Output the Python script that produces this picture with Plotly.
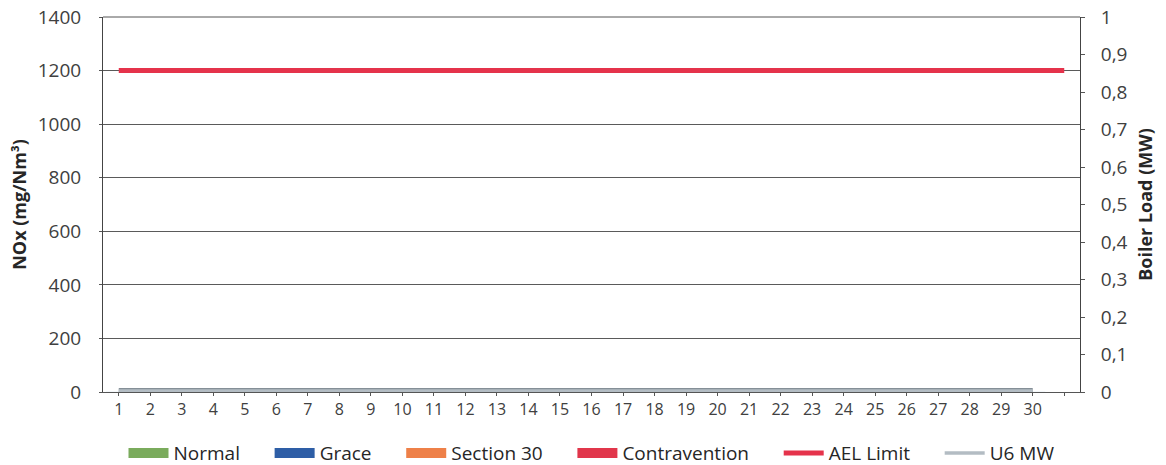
import plotly.graph_objects as go

days = list(range(1, 32))
day_labels = [str(d) for d in range(1, 31)] + [""]
normal = [0] * 30
grace = [0] * 30
section30 = [0] * 30
contravention = [0] * 30
ael_limit = [1200] * 31
u6_mw = [0.003] * 30

left_ticks = [0, 200, 400, 600, 800, 1000, 1200, 1400]
left_labels = ["0", "200", "400", "600", "800", "1000", "1200", "1400"]
right_ticks = [0, 0.1, 0.2, 0.3, 0.4, 0.5, 0.6, 0.7, 0.8, 0.9, 1.0]
right_labels = ["0", "0,1", "0,2", "0,3", "0,4", "0,5", "0,6", "0,7", "0,8", "0,9", "1"]

bar_series = [("Normal", normal, "#7aab5c"), ("Grace", grace, "#2e5ea6"),
              ("Section 30", section30, "#ee8048"), ("Contravention", contravention, "#e1364b")]

PAD = "\u00a0" * 5  # extra spacing between legend entries

font_family = "'Open Sans', Lato, sans-serif"
fig = go.Figure()
x30 = days[:30]
for name, vals, col in bar_series:
    fig.add_bar(x=x30, y=vals, name=name, marker_color=col, legendgroup=name, showlegend=False)
    # legend entry drawn as a thick swatch
    fig.add_scatter(x=[None], y=[None], name=name + PAD, mode="lines", legendgroup=name,
                    line=dict(color=col, width=12))
fig.add_scatter(x=days, y=ael_limit, name="AEL Limit" + PAD, mode="lines",
                line=dict(color="#e5334b", width=5))
fig.add_scatter(x=x30, y=u6_mw, mode="lines", yaxis="y2", showlegend=False,
                legendgroup="u6", hoverinfo="skip", line=dict(color="#858f97", width=6))
fig.add_scatter(x=x30, y=u6_mw, name="U6 MW", mode="lines", yaxis="y2", legendgroup="u6",
                line=dict(color="#b3bcc3", width=3.5))

fig.update_layout(
    width=1166, height=465,
    margin=dict(l=103, r=86, t=17, b=73, autoexpand=False),
    paper_bgcolor="white", plot_bgcolor="white",
    font=dict(family=font_family, size=15, color="#404040"),
    barmode="group",
    showlegend=True,
    legend=dict(orientation="h", x=0.5, xanchor="center", y=-0.163, yanchor="middle",
                font=dict(size=19, color="#262626"), itemwidth=40,
                traceorder="normal", tracegroupgap=0),
    xaxis=dict(range=[0.5, 31.5], tickmode="array", tickvals=days, ticktext=day_labels,
               showgrid=False, showline=True, linecolor="#555555", linewidth=1,
               ticks="outside", ticklen=3, tickcolor="#555555",
               tickfont=dict(size=16, color="#404040"), zeroline=False, automargin=False),
    yaxis=dict(range=[0, 1400], tickmode="array", tickvals=left_ticks, ticktext=left_labels,
               showgrid=True, gridcolor="#5a5a5a", gridwidth=1,
               showline=True, linecolor="#444444", linewidth=1, mirror=False,
               ticks="outside", ticklen=3, tickcolor="#555555", ticklabelstandoff=14,
               ticklabeloverflow="allow",
               tickfont=dict(size=19, color="#404040"), zeroline=False, automargin=False,
               title=dict(text="<b>NOx (mg/Nm³)</b>", font=dict(size=18, color="#262626"), standoff=6)),
    yaxis2=dict(range=[0, 1], overlaying="y", side="right", tickmode="array",
                tickvals=right_ticks, ticktext=right_labels, showgrid=False,
                showline=True, linecolor="#444444", linewidth=1,
                ticks="outside", ticklen=4, tickcolor="#555555", ticklabelstandoff=12,
                ticklabeloverflow="allow",
                tickfont=dict(size=19, color="#404040"), zeroline=False, automargin=False,
                title=dict(text="<b>Boiler Load (MW)</b>", font=dict(size=18, color="#262626"), standoff=12)),
)
fig.add_shape(type="line", xref="paper", yref="paper", x0=0, x1=1, y0=1, y1=1,
              line=dict(color="#555555", width=1))

# remove the browser's default 8px body margin so the 1166x465 figure fills the window
fig.write_html("out.html", config={"displayModeBar": False},
               post_script="document.body.style.margin='0px';document.body.style.overflow='hidden';")
